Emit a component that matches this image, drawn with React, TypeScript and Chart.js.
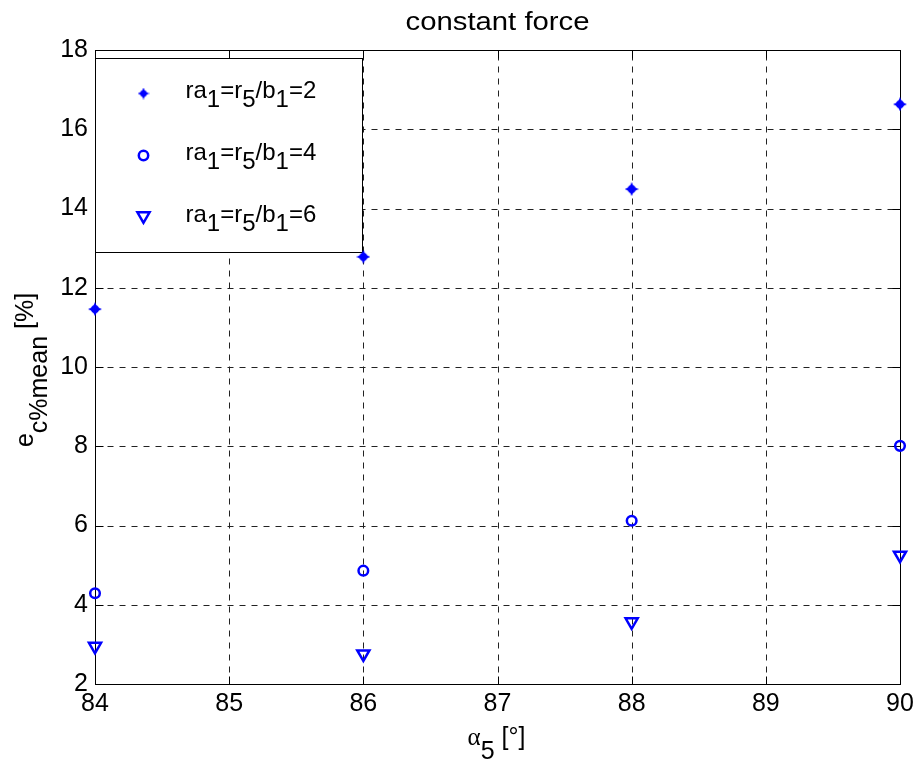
import React, { useEffect, useRef } from 'react';
import { Chart, registerables } from 'chart.js';

Chart.register(...registerables);

// ---- data ----
const xValues = [84, 86, 88, 90];
const seriesRa2 = [11.46, 12.78, 14.49, 16.63];
const seriesRa4 = [4.29, 4.86, 6.12, 8.01];
const seriesRa6 = [2.95, 2.76, 3.57, 5.25];
const xTickValues = [84, 85, 86, 87, 88, 89, 90];
const yTickValues = [2, 4, 6, 8, 10, 12, 14, 16, 18];
const titleText = 'constant force';
const legendLabel2 = [
  { t: 'ra' }, { t: '1', sub: true }, { t: '=r' }, { t: '5', sub: true },
  { t: '/b' }, { t: '1', sub: true }, { t: '=2' },
];
const legendLabel4 = [
  { t: 'ra' }, { t: '1', sub: true }, { t: '=r' }, { t: '5', sub: true },
  { t: '/b' }, { t: '1', sub: true }, { t: '=4' },
];
const legendLabel6 = [
  { t: 'ra' }, { t: '1', sub: true }, { t: '=r' }, { t: '5', sub: true },
  { t: '/b' }, { t: '1', sub: true }, { t: '=6' },
];
const xTitleParts = [{ t: 'α', serif: true }, { t: '5', sub: true }, { t: ' [°]' }];
const yTitleParts = [{ t: 'e' }, { t: 'c%mean', sub: true }, { t: ' [%]' }];

const BLUE = '#0000FF';
const FONT = '"Liberation Sans", Arial, Helvetica, sans-serif';
const SERIF = '"Liberation Serif", "Times New Roman", serif';

function makeStar(size: number): HTMLCanvasElement {
  const c = document.createElement('canvas');
  c.width = size;
  c.height = size;
  const ctx = c.getContext('2d')!;
  const m = size / 2;
  const R = size / 2;
  const r = size * 0.22;
  ctx.fillStyle = BLUE;
  ctx.beginPath();
  for (let i = 0; i < 8; i++) {
    const a = (i * Math.PI) / 4 - Math.PI / 2;
    const rad = i % 2 === 0 ? R : r;
    ctx.lineTo(m + rad * Math.cos(a), m + rad * Math.sin(a));
  }
  ctx.closePath();
  ctx.fill();
  ctx.beginPath();
  ctx.arc(m, m, size * 0.28, 0, Math.PI * 2);
  ctx.fill();
  return c;
}

type Part = { t: string; sub?: boolean; serif?: boolean };

function partsWidth(ctx: CanvasRenderingContext2D, parts: Part[], size: number) {
  let w = 0;
  for (const p of parts) {
    ctx.font = `${size}px ${p.serif ? SERIF : FONT}`;
    w += ctx.measureText(p.t).width;
  }
  return w;
}

function drawParts(ctx: CanvasRenderingContext2D, parts: Part[], x: number, y: number, size: number, subDy: number) {
  let cx = x;
  ctx.textAlign = 'left';
  ctx.textBaseline = 'alphabetic';
  for (const p of parts) {
    ctx.font = `${size}px ${p.serif ? SERIF : FONT}`;
    ctx.fillText(p.t, cx, y + (p.sub ? subDy : 0));
    cx += ctx.measureText(p.t).width;
  }
}

export default function App() {
  const ref = useRef<HTMLCanvasElement>(null);

  useEffect(() => {
    const canvas = ref.current!;
    const star = makeStar(14);
    const starLegend = makeStar(12);

    const plugin = {
      id: 'matlabDecor',
      beforeDatasetsDraw(chart: any) {
        const { ctx, chartArea: a, scales } = chart;
        const xs = scales.x;
        const ys = scales.y;
        const L = Math.round(a.left) + 0.5;
        const R = Math.round(a.right) + 0.5;
        const T = Math.round(a.top) + 0.5;
        const B = Math.round(a.bottom) + 0.5;
        ctx.save();
        ctx.lineWidth = 1;
        // grid
        ctx.strokeStyle = '#222';
        ctx.setLineDash([6, 6]);
        for (const v of xTickValues) {
          const px = Math.round(xs.getPixelForValue(v)) + 0.5;
          if (px <= L + 1 || px >= R - 1) continue;
          ctx.beginPath();
          ctx.moveTo(px, B);
          ctx.lineTo(px, T);
          ctx.stroke();
        }
        for (const v of yTickValues) {
          const py = Math.round(ys.getPixelForValue(v)) + 0.5;
          if (py <= T + 1 || py >= B - 1) continue;
          ctx.beginPath();
          ctx.moveTo(L, py);
          ctx.lineTo(R, py);
          ctx.stroke();
        }
        ctx.setLineDash([]);
        ctx.strokeStyle = '#000';
        // tick marks (inward, all four sides)
        const tl = 8;
        for (const v of xTickValues) {
          const px = Math.round(xs.getPixelForValue(v)) + 0.5;
          ctx.beginPath();
          ctx.moveTo(px, B);
          ctx.lineTo(px, B - tl);
          ctx.moveTo(px, T);
          ctx.lineTo(px, T + tl);
          ctx.stroke();
        }
        for (const v of yTickValues) {
          const py = Math.round(ys.getPixelForValue(v)) + 0.5;
          ctx.beginPath();
          ctx.moveTo(L, py);
          ctx.lineTo(L + tl, py);
          ctx.moveTo(R, py);
          ctx.lineTo(R - tl, py);
          ctx.stroke();
        }
        // box
        ctx.strokeRect(L, T, R - L, B - T);

        // legend
        const lx = L;
        const ly = T + 8;
        const lw = 267;
        const lh = 194;
        ctx.fillStyle = '#fff';
        ctx.fillRect(lx, ly, lw, lh);
        ctx.strokeStyle = '#000';
        ctx.strokeRect(lx, ly, lw, lh);
        const rows = [
          { label: legendLabel2, kind: 'star' },
          { label: legendLabel4, kind: 'circle' },
          { label: legendLabel6, kind: 'tri' },
        ];
        const rowY = [35, 97, 159];
        rows.forEach((row, i) => {
          const cy = ly + rowY[i];
          const mx = lx + 48;
          ctx.strokeStyle = BLUE;
          ctx.lineWidth = 2.5;
          if (row.kind === 'star') {
            ctx.drawImage(starLegend, mx - 6, cy - 6);
          } else if (row.kind === 'circle') {
            ctx.beginPath();
            ctx.arc(mx, cy, 4.7, 0, Math.PI * 2);
            ctx.stroke();
          } else {
            const r = 7;
            const c0 = cy - r / 4;
            ctx.beginPath();
            ctx.moveTo(mx, c0 + r);
            ctx.lineTo(mx - r * Math.sin(Math.PI / 3), c0 - r / 2);
            ctx.lineTo(mx + r * Math.sin(Math.PI / 3), c0 - r / 2);
            ctx.closePath();
            ctx.stroke();
          }
          ctx.fillStyle = '#000';
          drawParts(ctx, row.label as Part[], lx + 90, cy + 4.5, 24, 9.4);
        });
        ctx.restore();
      },
      afterDraw(chart: any) {
        const { ctx, chartArea: a } = chart;
        ctx.save();
        ctx.fillStyle = '#000';
        // title
        ctx.font = `26px ${FONT}`;
        const tw = ctx.measureText(titleText).width;
        const sx = 184 / tw;
        ctx.save();
        ctx.translate((a.left + a.right) / 2, a.top - 20);
        ctx.scale(sx, 1);
        ctx.textAlign = 'center';
        ctx.textBaseline = 'alphabetic';
        ctx.fillText(titleText, 0, 0);
        ctx.restore();

        // x title
        const xw = partsWidth(ctx, xTitleParts as Part[], 25);
        drawParts(ctx, xTitleParts as Part[], (a.left + a.right) / 2 - 1 - xw / 2, a.bottom + 61, 25, 14);

        // y title (rotated)
        const yw = partsWidth(ctx, yTitleParts as Part[], 25);
        ctx.save();
        ctx.translate(33, (a.top + a.bottom) / 2 + 3);
        ctx.rotate(-Math.PI / 2);
        drawParts(ctx, yTitleParts as Part[], -yw / 2, 0, 25, 13.5);
        ctx.restore();
        ctx.restore();
      },
    };

    const chart = new Chart(canvas, {
      type: 'scatter',
      data: {
        datasets: [
          {
            label: 'ra1=r5/b1=2',
            data: xValues.map((x, i) => ({ x, y: seriesRa2[i] })),
            pointStyle: star as any,
            pointRadius: 7,
            showLine: false,
            clip: false as any,
          },
          {
            label: 'ra1=r5/b1=4',
            data: xValues.map((x, i) => ({ x, y: seriesRa4[i] })),
            pointStyle: 'circle',
            pointRadius: 4.8,
            borderColor: BLUE,
            backgroundColor: 'rgba(0,0,0,0)',
            borderWidth: 2.5,
            showLine: false,
            clip: false as any,
          },
          {
            label: 'ra1=r5/b1=6',
            data: xValues.map((x, i) => ({ x, y: seriesRa6[i] })),
            pointStyle: 'triangle',
            rotation: 180,
            pointRadius: 7,
            borderColor: BLUE,
            backgroundColor: 'rgba(0,0,0,0)',
            borderWidth: 2.5,
            showLine: false,
            clip: false as any,
          },
        ],
      },
      options: {
        animation: false,
        responsive: false,
        maintainAspectRatio: false,
        devicePixelRatio: 1,
        layout: { padding: { top: 50, right: 19, left: 0, bottom: 0 } },
        plugins: {
          legend: { display: false },
          title: { display: false },
          tooltip: { enabled: false },
        },
        scales: {
          x: {
            type: 'linear',
            min: 84,
            max: 90,
            afterFit: (s: any) => {
              s.height = 78;
            },
            afterBuildTicks: (s: any) => {
              s.ticks = xTickValues.map((v) => ({ value: v }));
            },
            grid: { display: false, drawTicks: false },
            border: { display: false },
            ticks: {
              color: '#000',
              font: { family: FONT, size: 25 },
              padding: 5,
              autoSkip: false,
              maxRotation: 0,
            },
          },
          y: {
            type: 'linear',
            min: 2,
            max: 18,
            afterFit: (s: any) => {
              s.width = 95;
            },
            afterBuildTicks: (s: any) => {
              s.ticks = yTickValues.map((v) => ({ value: v }));
            },
            grid: { display: false, drawTicks: false },
            border: { display: false },
            ticks: {
              color: '#000',
              font: { family: FONT, size: 25 },
              padding: 7,
              autoSkip: false,
            },
          },
        },
      },
      plugins: [plugin],
    });

    return () => chart.destroy();
  }, []);

  return (
    <div style={{ position: 'absolute', left: 0, top: 0, width: 919, height: 762, background: '#fff' }}>
      <canvas ref={ref} width={919} height={762} style={{ width: 919, height: 762, display: 'block' }} />
    </div>
  );
}
